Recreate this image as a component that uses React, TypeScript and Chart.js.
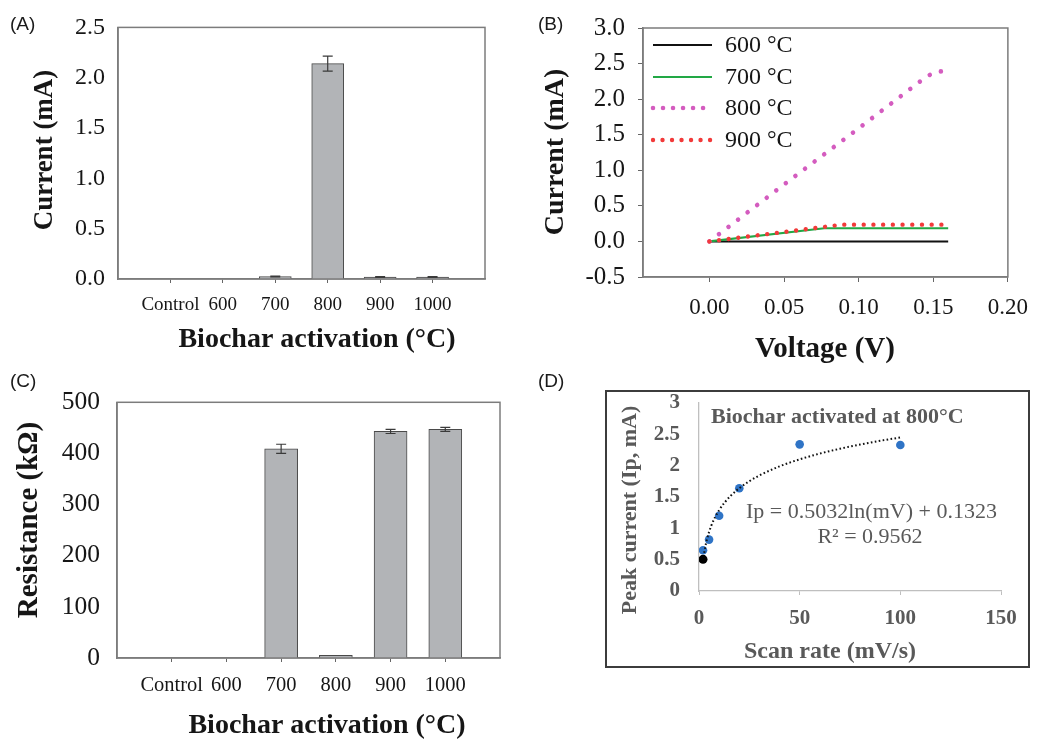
import React, { useEffect, useRef } from 'react';
import { Chart, registerables } from 'chart.js';

Chart.register(...registerables);

// ---------------- DATA ----------------
const CATEGORIES = ['Control', '600', '700', '800', '900', '1000'];

// (A) current by activation temperature (mA)
const CURRENT_MA = [0, 0, 0.025, 2.14, 0.02, 0.02];
const CURRENT_ERR = [0, 0, 0.004, 0.075, 0.003, 0.003];
const A_Y_TICKS = [0, 0.5, 1.0, 1.5, 2.0, 2.5];

// (C) resistance by activation temperature (kOhm)
const RESISTANCE_KOHM = [0, 0, 409, 5, 443, 447];
const RESISTANCE_ERR = [0, 0, 9, 0, 4, 4];
const C_Y_TICKS = [0, 100, 200, 300, 400, 500];

// (B) I–V curves
const B_LABELS = ['600 °C', '700 °C', '800 °C', '900 °C'];
const V600 = [0, 0.16];
const I600 = [0, 0];
const V700 = [0, 0.077, 0.16];
const I700 = [0, 0.185, 0.185];
const V800 = [0, 0.05, 0.1, 0.145, 0.152, 0.16];
const I800 = [0, 0.8, 1.59, 2.31, 2.39, 2.39];
const V900 = [0, 0.089, 0.16];
const I900 = [0, 0.236, 0.236];
const B_X_TICKS = [0, 0.05, 0.1, 0.15, 0.2];
const B_Y_TICKS = [-0.5, 0, 0.5, 1.0, 1.5, 2.0, 2.5, 3.0];

// (D) peak current vs scan rate
const SCAN_RATE = [2, 5, 10, 20, 50, 100];
const PEAK_CURRENT = [0.65, 0.82, 1.2, 1.64, 2.34, 2.33];
const BLACK_RATE = [2];
const BLACK_CURRENT = [0.505];
const TREND_X = [2, 3, 4, 5, 6, 8, 10, 13, 16, 20, 25, 30, 40, 50, 60, 70, 80, 90, 100];
const TREND_Y = [0.481, 0.685, 0.83, 0.942, 1.034, 1.179, 1.291, 1.423, 1.527, 1.64, 1.752, 1.844, 1.989, 2.101, 2.193, 2.27, 2.337, 2.397, 2.45];
const D_X_TICKS = [0, 50, 100, 150];
const D_Y_TICKS = [0, 0.5, 1, 1.5, 2, 2.5, 3];

// ---------------- HELPERS ----------------
const SERIF = '"Liberation Serif", "Times New Roman", serif';
const SANS = '"Liberation Sans", Arial, sans-serif';
const AXIS_GRAY = '#7c7c7c';
const TEXT_DARK = '#161616';
const D_GRAY = '#595959';

type TextItem = {
  text: string;
  x: number;
  y: number;
  font: string;
  color?: string;
  align?: CanvasTextAlign;
  rotate?: number;
};

const textPlugin = (items: TextItem[]) => ({
  id: 'panelText',
  afterDraw(chart: any) {
    const ctx = chart.ctx;
    items.forEach((it) => {
      ctx.save();
      ctx.translate(it.x, it.y);
      if (it.rotate) ctx.rotate(it.rotate);
      ctx.font = it.font;
      ctx.fillStyle = it.color || TEXT_DARK;
      ctx.textAlign = it.align || 'center';
      ctx.textBaseline = 'middle';
      ctx.fillText(it.text, 0, 0);
      ctx.restore();
    });
  },
});

const boxPlugin = (color: string, width: number) => ({
  id: 'areaBox',
  afterDraw(chart: any) {
    const { ctx, chartArea: a } = chart;
    ctx.save();
    ctx.strokeStyle = color;
    ctx.lineWidth = width;
    ctx.strokeRect(a.left, a.top, a.right - a.left, a.bottom - a.top);
    ctx.restore();
  },
});

const frameRectPlugin = (x: number, y: number, w: number, h: number) => ({
  id: 'frameRect',
  afterDraw(chart: any) {
    const ctx = chart.ctx;
    ctx.save();
    ctx.strokeStyle = '#3c3c3c';
    ctx.lineWidth = 2;
    ctx.strokeRect(x, y, w, h);
    ctx.restore();
  },
});

const errorBarPlugin = (errors: number[], cap: number) => ({
  id: 'errorBars',
  afterDatasetsDraw(chart: any) {
    const ctx = chart.ctx;
    const meta = chart.getDatasetMeta(0);
    const ys = chart.scales.y;
    const data = chart.data.datasets[0].data as (number | null)[];
    ctx.save();
    ctx.strokeStyle = '#3a3a3a';
    ctx.lineWidth = 1.2;
    meta.data.forEach((bar: any, i: number) => {
      const v = data[i];
      const e = errors[i];
      if (v == null || !e) return;
      const top = ys.getPixelForValue(v + e);
      const bot = ys.getPixelForValue(v - e);
      const x = bar.x;
      ctx.beginPath();
      ctx.moveTo(x, top);
      ctx.lineTo(x, bot);
      ctx.moveTo(x - cap, top);
      ctx.lineTo(x + cap, top);
      ctx.moveTo(x - cap, bot);
      ctx.lineTo(x + cap, bot);
      ctx.stroke();
    });
    ctx.restore();
  },
});

const fixTicks = (values: number[]) => (scale: any) => {
  scale.ticks = values.map((v) => ({ value: v }));
};

// ---------------- BAR PANELS (A, C) ----------------
function barConfig(opts: {
  values: number[];
  errors: number[];
  yTicks: number[];
  yFmt: (v: number) => string;
  yFontSize: number;
  yPad: number;
  xFontSize: number;
  area: { left: number; top: number; right: number; bottom: number };
  w: number;
  h: number;
  barThickness: number;
  texts: TextItem[];
}) {
  const labels = ['', ...CATEGORIES, ''];
  const data = [null, ...opts.values, null];
  const errs = [0, ...opts.errors, 0];
  const last = labels.length - 1;
  return {
    type: 'bar' as const,
    data: {
      labels,
      datasets: [
        {
          data,
          backgroundColor: '#b2b4b7',
          borderColor: '#4a4a4a',
          borderWidth: 1,
          barThickness: opts.barThickness,
          borderSkipped: 'start',
        },
      ],
    },
    options: {
      responsive: false,
      animation: false,
      devicePixelRatio: 1,
      layout: {
        padding: {
          left: 0,
          top: opts.area.top,
          right: opts.w - opts.area.right,
          bottom: 0,
        },
      },
      plugins: { legend: { display: false }, tooltip: { enabled: false } },
      scales: {
        x: {
          type: 'category',
          offset: false,
          afterFit: (s: any) => {
            s.height = opts.h - opts.area.bottom;
          },
          grid: {
            display: true,
            offset: false,
            drawOnChartArea: false,
            drawTicks: true,
            tickLength: 4,
            color: (c: any) => (c.index === 0 || c.index === last ? 'rgba(0,0,0,0)' : '#666'),
          },
          border: { display: true, color: AXIS_GRAY, width: 1.5 },
          ticks: {
            autoSkip: false,
            maxRotation: 0,
            minRotation: 0,
            padding: 11,
            color: TEXT_DARK,
            font: { family: SERIF, size: opts.xFontSize },
          },
        },
        y: {
          min: opts.yTicks[0],
          max: opts.yTicks[opts.yTicks.length - 1],
          afterBuildTicks: fixTicks(opts.yTicks),
          afterFit: (s: any) => {
            s.width = opts.area.left;
          },
          grid: { display: false, drawTicks: false },
          border: { display: true, color: AXIS_GRAY, width: 1.5 },
          ticks: {
            padding: opts.yPad,
            color: TEXT_DARK,
            font: { family: SERIF, size: opts.yFontSize },
            callback: (v: any) => opts.yFmt(Number(v)),
          },
        },
      },
    },
    plugins: [boxPlugin(AXIS_GRAY, 1.5), errorBarPlugin(errs, 5), textPlugin(opts.texts)],
  };
}

// ---------------- PANEL B ----------------
const B_STYLES = [
  { color: '#111111', width: 2, dash: [] as number[] },
  { color: '#22a845', width: 2.2, dash: [] as number[] },
  { color: '#d45cbf', width: 4.6, dash: [0.01, 12] },
  { color: '#f23a3a', width: 4.4, dash: [0.01, 9.7] },
];

const legendBPlugin = {
  id: 'legendB',
  afterDraw(chart: any) {
    const ctx = chart.ctx;
    const rows = [45, 77, 108, 140];
    B_LABELS.forEach((lab, i) => {
      const st = B_STYLES[i];
      ctx.save();
      ctx.strokeStyle = st.color;
      ctx.lineWidth = st.width;
      ctx.lineCap = st.dash.length ? 'round' : 'butt';
      ctx.setLineDash(st.dash.length ? [0.01, i === 2 ? 10 : 9.5] : []);
      ctx.beginPath();
      ctx.moveTo(133, rows[i]);
      ctx.lineTo(192, rows[i]);
      ctx.stroke();
      ctx.setLineDash([]);
      ctx.font = `24px ${SERIF}`;
      ctx.fillStyle = TEXT_DARK;
      ctx.textAlign = 'left';
      ctx.textBaseline = 'middle';
      ctx.fillText(lab, 205, rows[i] + 1);
      ctx.restore();
    });
  },
};

function pairs(xs: number[], ys: number[]) {
  return xs.map((x, i) => ({ x, y: ys[i] }));
}

function configB() {
  const W = 520;
  const H = 370;
  const area = { left: 123, top: 25, right: 497, bottom: 277 };
  const series = [
    pairs(V600, I600),
    pairs(V700, I700),
    pairs(V800, I800),
    pairs(V900, I900),
  ];
  const orders = [3, 2, 1, 0];
  return {
    type: 'scatter' as const,
    data: {
      datasets: series.map((d, i) => ({
        label: B_LABELS[i],
        data: d,
        showLine: true,
        pointRadius: 0,
        borderColor: B_STYLES[i].color,
        borderWidth: B_STYLES[i].width,
        borderDash: B_STYLES[i].dash,
        borderCapStyle: B_STYLES[i].dash.length ? 'round' : 'butt',
        order: orders[i],
        tension: 0,
      })),
    },
    options: {
      responsive: false,
      animation: false,
      devicePixelRatio: 1,
      layout: { padding: { left: 0, top: area.top, right: W - area.right, bottom: 0 } },
      plugins: { legend: { display: false }, tooltip: { enabled: false } },
      scales: {
        x: {
          type: 'linear',
          min: -0.0445,
          max: 0.2,
          afterBuildTicks: fixTicks(B_X_TICKS),
          afterFit: (s: any) => {
            s.height = H - area.bottom;
          },
          grid: { display: true, drawOnChartArea: false, drawTicks: true, tickLength: 5, color: '#666' },
          border: { display: true, color: AXIS_GRAY, width: 1.5 },
          ticks: {
            padding: 12,
            color: TEXT_DARK,
            font: { family: SERIF, size: 23 },
            callback: (v: any) => Number(v).toFixed(2),
          },
        },
        y: {
          type: 'linear',
          min: -0.5,
          max: 3.0,
          afterBuildTicks: fixTicks(B_Y_TICKS),
          afterFit: (s: any) => {
            s.width = area.left;
          },
          grid: { display: true, drawOnChartArea: false, drawTicks: true, tickLength: 5, color: '#666' },
          border: { display: true, color: AXIS_GRAY, width: 1.5 },
          ticks: {
            padding: 13,
            color: TEXT_DARK,
            font: { family: SERIF, size: 25 },
            callback: (v: any) => Number(v).toFixed(1),
          },
        },
      },
    },
    plugins: [
      boxPlugin(AXIS_GRAY, 1.5),
      legendBPlugin,
      textPlugin([
        { text: '(B)', x: 18, y: 25, font: `19px ${SANS}`, align: 'left', color: '#1a1a1a' },
        { text: 'Current (mA)', x: 36, y: 152, font: `bold 28px ${SERIF}`, rotate: -Math.PI / 2 },
        { text: 'Voltage (V)', x: 305, y: 350, font: `bold 29px ${SERIF}` },
      ]),
    ],
  };
}

// ---------------- PANEL D ----------------
function configD() {
  const W = 520;
  const H = 370;
  const area = { left: 179, top: 33, right: 481, bottom: 221 };
  return {
    type: 'scatter' as const,
    data: {
      datasets: [
        {
          label: 'Black',
          data: pairs(BLACK_RATE, BLACK_CURRENT),
          pointRadius: 4.5,
          backgroundColor: '#000000',
          borderColor: '#000000',
          borderWidth: 0,
          order: 0,
        },
        {
          label: 'Peak current',
          data: pairs(SCAN_RATE, PEAK_CURRENT),
          pointRadius: 4.3,
          backgroundColor: '#2f74c6',
          borderColor: '#2f74c6',
          borderWidth: 0,
          order: 2,
        },
        {
          label: 'Log trendline',
          data: pairs(TREND_X, TREND_Y),
          showLine: true,
          pointRadius: 0,
          borderColor: '#111111',
          borderWidth: 2,
          borderDash: [1.6, 2.4],
          cubicInterpolationMode: 'monotone',
          order: 1,
        },
      ],
    },
    options: {
      responsive: false,
      animation: false,
      devicePixelRatio: 1,
      layout: { padding: { left: 0, top: area.top, right: W - area.right, bottom: 0 } },
      plugins: { legend: { display: false }, tooltip: { enabled: false } },
      scales: {
        x: {
          type: 'linear',
          min: 0,
          max: 150,
          afterBuildTicks: fixTicks(D_X_TICKS),
          afterFit: (s: any) => {
            s.height = H - area.bottom;
          },
          grid: { display: true, drawOnChartArea: false, drawTicks: true, tickLength: 4, color: '#bfbfbf' },
          border: { display: true, color: '#bfbfbf', width: 1.3 },
          ticks: {
            padding: 11,
            color: D_GRAY,
            font: { family: SERIF, size: 21, weight: 'bold' },
          },
        },
        y: {
          type: 'linear',
          min: 0,
          max: 3,
          afterBuildTicks: fixTicks(D_Y_TICKS),
          afterFit: (s: any) => {
            s.width = area.left;
          },
          grid: { display: false, drawTicks: false },
          border: { display: true, color: '#bfbfbf', width: 1.3 },
          ticks: {
            padding: 19,
            color: D_GRAY,
            font: { family: SERIF, size: 21, weight: 'bold' },
            callback: (v: any) => String(Number(v)),
          },
        },
      },
    },
    plugins: [
      frameRectPlugin(86, 21, 423, 276),
      textPlugin([
        { text: '(D)', x: 18, y: 12, font: `19px ${SANS}`, align: 'left', color: '#1a1a1a' },
        { text: 'Peak current (Ip, mA)', x: 110, y: 140, font: `bold 22px ${SERIF}`, rotate: -Math.PI / 2, color: D_GRAY },
        { text: 'Scan rate (mV/s)', x: 310, y: 282, font: `bold 24px ${SERIF}`, color: D_GRAY },
        { text: 'Biochar activated at 800°C', x: 191, y: 47, font: `bold 22px ${SERIF}`, align: 'left', color: D_GRAY },
        { text: 'Ip = 0.5032ln(mV) + 0.1323', x: 226, y: 142, font: `22px ${SERIF}`, align: 'left', color: D_GRAY },
        { text: 'R² = 0.9562', x: 350, y: 167, font: `22px ${SERIF}`, color: D_GRAY },
      ]),
    ],
  };
}

// ---------------- COMPONENTS ----------------
function Panel(props: { left: number; top: number; width: number; height: number; build: () => any }) {
  const ref = useRef<HTMLCanvasElement | null>(null);
  useEffect(() => {
    if (!ref.current) return;
    const chart = new Chart(ref.current, props.build());
    return () => chart.destroy();
  }, []);
  return (
    <canvas
      ref={ref}
      width={props.width}
      height={props.height}
      style={{ position: 'absolute', left: props.left, top: props.top, width: props.width, height: props.height }}
    />
  );
}

const buildA = () =>
  barConfig({
    values: CURRENT_MA,
    errors: CURRENT_ERR,
    yTicks: A_Y_TICKS,
    yFmt: (v) => v.toFixed(1),
    yFontSize: 24,
    yPad: 13,
    xFontSize: 19,
    area: { left: 118, top: 24, right: 485, bottom: 279 },
    w: 520,
    h: 370,
    barThickness: 32,
    texts: [
      { text: '(A)', x: 10, y: 25, font: `19px ${SANS}`, align: 'left', color: '#1a1a1a' },
      { text: 'Current (mA)', x: 45, y: 150, font: `bold 27px ${SERIF}`, rotate: -Math.PI / 2 },
      { text: 'Biochar activation (°C)', x: 317, y: 340, font: `bold 28px ${SERIF}` },
    ],
  });

const buildC = () =>
  barConfig({
    values: RESISTANCE_KOHM,
    errors: RESISTANCE_ERR,
    yTicks: C_Y_TICKS,
    yFmt: (v) => String(v),
    yFontSize: 25.5,
    yPad: 17,
    xFontSize: 20.5,
    area: { left: 117, top: 22, right: 500, bottom: 288 },
    w: 520,
    h: 370,
    barThickness: 33,
    texts: [
      { text: '(C)', x: 10, y: 12, font: `19px ${SANS}`, align: 'left', color: '#1a1a1a' },
      { text: 'Resistance (kΩ)', x: 30, y: 150, font: `bold 29px ${SERIF}`, rotate: -Math.PI / 2 },
      { text: 'Biochar activation (°C)', x: 327, y: 356, font: `bold 28px ${SERIF}` },
    ],
  });

export default function App() {
  return (
    <div
      style={{
        position: 'absolute',
        left: 0,
        top: 0,
        width: 1040,
        height: 740,
        background: '#ffffff',
        overflow: 'hidden',
      }}
    >
      <Panel left={0} top={0} width={520} height={370} build={buildA} />
      <Panel left={520} top={0} width={520} height={370} build={configB} />
      <Panel left={0} top={370} width={520} height={370} build={buildC} />
      <Panel left={520} top={370} width={520} height={370} build={configD} />
    </div>
  );
}
